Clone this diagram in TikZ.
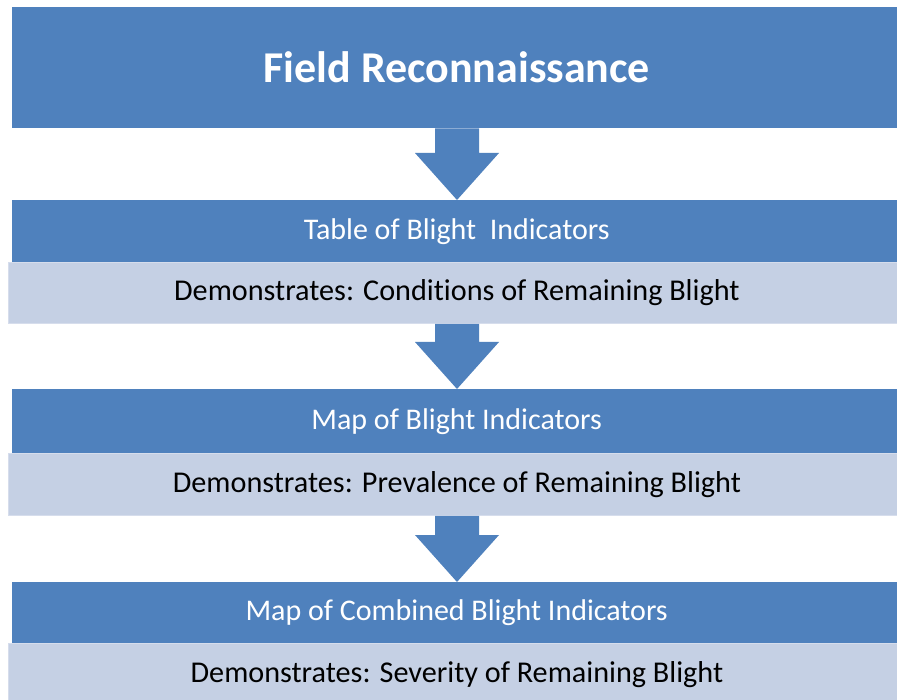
\documentclass[tikz,border=0pt]{standalone}
\usepackage{fontspec}
\setmainfont{Carlito}[Ligatures={NoCommon}]
\usetikzlibrary{calc}
\definecolor{hdblue}{HTML}{4F81BD}
\definecolor{lightbar}{HTML}{C5D0E4}
\definecolor{lightedge}{HTML}{D6DDEC}
\tikzset{
  titlebox/.style={fill=hdblue, draw=none, anchor=north west, inner sep=0pt,
    minimum width=889pt, text=white, font=\fontsize{44}{50}\selectfont\bfseries},
  headbox/.style={fill=hdblue, draw=none, anchor=north west, inner sep=0pt,
    minimum width=889pt, text=white, font=\fontsize{30}{36}\selectfont},
  descbox/.style={fill=lightbar, draw=lightedge, line width=0.8pt, anchor=north west, inner sep=0pt,
    minimum width=897pt, text=black, font=\fontsize{30.2}{36}\selectfont},
  arrowfill/.style={fill=hdblue}
}
\newcommand\blockarrow[2]{%
  \fill[arrowfill] ($(ax |- #1.south)+(-22,0)$) -- ($(ax |- #1.south)+(22,0)$)
    -- ($(ax |- #2.north)+(22,-47)$) -- ($(ax |- #2.north)+(42,-47)$)
    -- (ax |- #2.north) -- ($(ax |- #2.north)+(-42,-47)$)
    -- ($(ax |- #2.north)+(-22,-47)$) -- cycle;}
\begin{document}
\begin{tikzpicture}[x=1pt,y=-1pt]
\useasboundingbox (0,0) rectangle (897,700);
\fill[white] (0,0) rectangle (897,700);
\coordinate (ax) at (457,0);
\node[titlebox, minimum height=121pt] (top) at (12,7) {Field Reconnaissance};
\node[headbox, minimum height=62pt] (h1) at (12,200) {Table of Blight\ \ Indicators};
\node[descbox, minimum height=61pt] (d1) at (8,262) {Demonstrates: Conditions of Remaining Blight};
\node[headbox, minimum height=64pt] (h2) at (12,389) {Map of Blight Indicators};
\node[descbox, minimum height=62pt] (d2) at (8,453) {Demonstrates: Prevalence of Remaining Blight};
\node[headbox, minimum height=61pt] (h3) at (12,582) {Map of Combined Blight Indicators};
\node[descbox, minimum height=62pt] (d3) at (8,643) {Demonstrates: Severity of Remaining Blight};
\blockarrow{top}{h1}
\blockarrow{d1}{h2}
\blockarrow{d2}{h3}
\end{tikzpicture}
\end{document}
